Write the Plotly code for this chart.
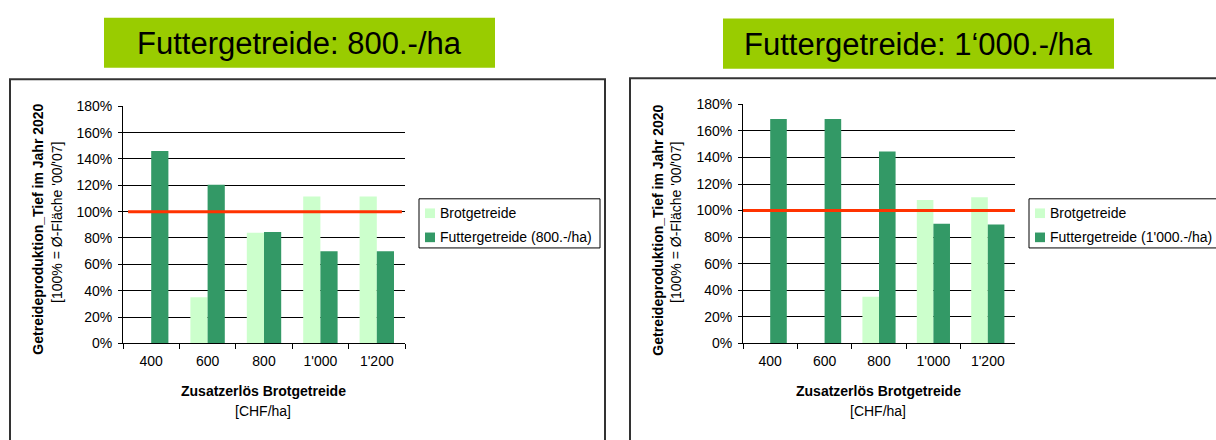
import plotly.graph_objects as go

W, H = 1216, 440

categories = ["400", "600", "800", "1'000", "1'200"]
brot_800 = [0, 35, 84, 111.5, 111.5]
futter_800 = [146, 120.5, 84.5, 70, 70]
brot_1000 = [0, 0, 35, 108, 110]
futter_1000 = [169, 169, 144.5, 90, 89.5]
reference_level = 100
titles = ["Futtergetreide: 800.-/ha", "Futtergetreide: 1\u2018000.-/ha"]
series_names_left = ["Brotgetreide", "Futtergetreide (800.-/ha)"]
series_names_right = ["Brotgetreide", "Futtergetreide (1'000.-/ha)"]
y_ticks = [0, 20, 40, 60, 80, 100, 120, 140, 160, 180]
y_tick_labels = ["0%", "20%", "40%", "60%", "80%", "100%", "120%", "140%", "160%", "180%"]
y_title = "Getreideproduktion_Tief im Jahr 2020"
y_subtitle = "[100% = \u00d8-Fl\u00e4che '00/'07]"
x_title = "Zusatzerl\u00f6s Brotgetreide"
x_subtitle = "[CHF/ha]"

LIGHT = "#ccffcc"
DARK = "#339966"
RED = "#ff3300"
BOXGREEN = "#99cc00"
FONT = "Arial, Liberation Sans, sans-serif"


def px(x):
    return x / W


def py(y):
    return 1 - y / H


fig = go.Figure()

fig.add_trace(go.Bar(x=categories, y=brot_800, name=series_names_left[0],
                     marker=dict(color=LIGHT, line=dict(width=0)),
                     xaxis="x", yaxis="y", showlegend=False))
fig.add_trace(go.Bar(x=categories, y=futter_800, name=series_names_left[1],
                     marker=dict(color=DARK, line=dict(width=0)),
                     xaxis="x", yaxis="y", showlegend=False))
fig.add_trace(go.Bar(x=categories, y=brot_1000, name=series_names_right[0],
                     marker=dict(color=LIGHT, line=dict(width=0)),
                     xaxis="x2", yaxis="y2", showlegend=False))
fig.add_trace(go.Bar(x=categories, y=futter_1000, name=series_names_right[1],
                     marker=dict(color=DARK, line=dict(width=0)),
                     xaxis="x2", yaxis="y2", showlegend=False))

xaxis_common = dict(type="category", showline=True, linecolor="black", linewidth=1,
                    ticks="outside", tickson="boundaries", ticklen=5, tickcolor="black",
                    showgrid=False, tickfont=dict(size=14, color="black", family=FONT),
                    ticklabelstandoff=5, fixedrange=True)
yaxis_common = dict(range=[0, 180], tickmode="array", tickvals=y_ticks, ticktext=y_tick_labels,
                    showline=True, linecolor="black", linewidth=1,
                    ticks="outside", ticklen=4, tickcolor="black",
                    showgrid=True, gridcolor="black", gridwidth=1, zeroline=False,
                    tickfont=dict(size=14, color="black", family=FONT),
                    ticklabelstandoff=3, fixedrange=True)

fig.update_layout(
    width=W, height=H,
    margin=dict(l=0, r=0, t=0, b=0),
    paper_bgcolor="white", plot_bgcolor="white",
    barmode="group", bargap=0.39, bargroupgap=0,
    font=dict(family=FONT, size=14, color="black"),
    xaxis=dict(domain=[px(123), px(405)], anchor="y", **xaxis_common),
    yaxis=dict(domain=[py(348), py(102)], anchor="x", **yaxis_common),
    xaxis2=dict(domain=[px(743), px(1015)], anchor="y2", **xaxis_common),
    yaxis2=dict(domain=[py(348), py(100)], anchor="x2", **yaxis_common),
    showlegend=False,
)

shapes = []
annotations = []

# frames
shapes.append(dict(type="rect", xref="paper", yref="paper", x0=px(10), x1=px(605),
                   y0=py(470), y1=py(74), line=dict(color="#333333", width=2),
                   fillcolor="rgba(0,0,0,0)", layer="below"))
shapes.append(dict(type="rect", xref="paper", yref="paper", x0=px(630), x1=px(1240),
                   y0=py(470), y1=py(73), line=dict(color="#333333", width=2),
                   fillcolor="rgba(0,0,0,0)", layer="below"))

# title boxes
for (x0, x1, y0, y1), t in zip([(104, 495, 10, 62), (723, 1114, 11, 63)], titles):
    shapes.append(dict(type="rect", xref="paper", yref="paper", x0=px(x0), x1=px(x1),
                       y0=py(y1), y1=py(y0), line=dict(width=0), fillcolor=BOXGREEN,
                       layer="below"))
    annotations.append(dict(text=t, xref="paper", yref="paper", x=px((x0 + x1) / 2),
                            y=py((y0 + y1) / 2 + 1), xanchor="center", yanchor="middle",
                            showarrow=False, font=dict(size=31, color="black", family=FONT)))

# reference lines at 100%
shapes.append(dict(type="line", xref="x domain", yref="y", x0=0.018, x1=0.989,
                   y0=reference_level, y1=reference_level, line=dict(color=RED, width=3)))
shapes.append(dict(type="line", xref="x2 domain", yref="y2", x0=0.0, x1=1.0,
                   y0=reference_level, y1=reference_level, line=dict(color=RED, width=3)))

# axis titles
for bx, sx, cx in [(38, 57, 263), (658, 676, 878)]:
    annotations.append(dict(text="<b>" + y_title + "</b>", xref="paper", yref="paper",
                            x=px(bx), y=py(230), xanchor="center", yanchor="middle",
                            textangle=-90, showarrow=False,
                            font=dict(size=14, color="black", family=FONT)))
    annotations.append(dict(text=y_subtitle, xref="paper", yref="paper",
                            x=px(sx), y=py(223), xanchor="center", yanchor="middle",
                            textangle=-90, showarrow=False,
                            font=dict(size=14, color="black", family=FONT)))
    annotations.append(dict(text="<b>" + x_title + "</b>", xref="paper", yref="paper",
                            x=px(cx), y=py(397), xanchor="center", yanchor="middle",
                            showarrow=False, font=dict(size=14, color="black", family=FONT)))
    annotations.append(dict(text=x_subtitle, xref="paper", yref="paper",
                            x=px(cx), y=py(418), xanchor="center", yanchor="middle",
                            showarrow=False, font=dict(size=14, color="black", family=FONT)))

# legends (drawn manually, Excel style)
for bx0, bx1, names in [(419, 600, series_names_left), (1029, 1240, series_names_right)]:
    shapes.append(dict(type="rect", xref="paper", yref="paper", x0=px(bx0), x1=px(bx1),
                       y0=py(249), y1=py(198), line=dict(color="black", width=1),
                       fillcolor="white"))
    for i, (name, col) in enumerate(zip(names, [LIGHT, DARK])):
        yc = 213 + 25 * i
        shapes.append(dict(type="rect", xref="paper", yref="paper",
                           x0=px(bx0 + 6), x1=px(bx0 + 16), y0=py(yc + 5), y1=py(yc - 5),
                           line=dict(width=0), fillcolor=col))
        annotations.append(dict(text=name, xref="paper", yref="paper",
                                x=px(bx0 + 19), y=py(yc), xanchor="left", yanchor="middle",
                                showarrow=False,
                                font=dict(size=14, color="black", family=FONT)))

fig.update_layout(shapes=shapes, annotations=annotations)

fig.write_html("out.html", config={"displayModeBar": False},
               post_script="document.body.style.margin='0';document.body.style.overflow='hidden';")
